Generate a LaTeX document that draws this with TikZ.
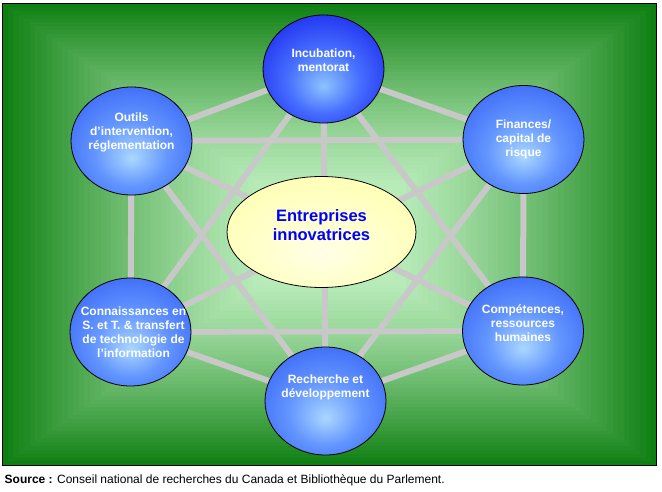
\documentclass[tikz,border=0pt]{standalone}
\usepackage{fontspec}
\setmainfont{Liberation Sans}
\usepackage{xcolor}
\usetikzlibrary{shapes.geometric}

\definecolor{greenDark}{RGB}{14,128,18}
\definecolor{greenLight}{RGB}{200,245,200}
\definecolor{linkGray}{RGB}{200,200,200}
\definecolor{textBlue}{RGB}{0,0,255}
\definecolor{bubbleIn}{RGB}{170,215,255}
\definecolor{bubbleMid}{RGB}{100,150,255}
\definecolor{bubbleRim}{RGB}{50,95,245}
\definecolor{bubbleOut}{RGB}{40,75,235}
\definecolor{topIn}{RGB}{140,195,255}
\definecolor{topMid}{RGB}{70,110,255}
\definecolor{topRim}{RGB}{20,30,235}
\definecolor{topOut}{RGB}{10,10,225}
\definecolor{hubIn}{RGB}{255,255,232}
\definecolor{hubMid}{RGB}{255,255,188}
\definecolor{hubOut}{RGB}{255,255,165}

\pgfdeclareradialshading{bubbleshade}{\pgfpoint{0bp}{-8bp}}{%
  color(0bp)=(bubbleIn); color(15bp)=(bubbleMid);
  color(35bp)=(bubbleRim); color(50bp)=(bubbleOut)}
\pgfdeclareradialshading{topshade}{\pgfpoint{0bp}{-8bp}}{%
  color(0bp)=(topIn); color(15bp)=(topMid);
  color(35bp)=(topRim); color(50bp)=(topOut)}
\pgfdeclareradialshading{hubshade}{\pgfpoint{0bp}{-10bp}}{%
  color(0bp)=(hubIn); color(25bp)=(hubMid); color(50bp)=(hubOut)}

\pgfdeclarelayer{back}
\pgfdeclarelayer{links}
\pgfsetlayers{back,links,main}

\tikzset{
  bubble/.style={ellipse, draw=black, line width=0.8pt, minimum width=121pt,
    minimum height=108pt, inner sep=0pt, shading=bubbleshade, shade},
  bubbletext/.style={text=white, align=center, inner sep=0pt,
    font=\fontsize{12}{14}\selectfont\bfseries},
  hub/.style={ellipse, draw=black, line width=0.8pt, minimum width=189pt,
    minimum height=111pt, inner sep=0pt, shading=hubshade, shade},
  hubtext/.style={text=textBlue, align=center, inner sep=0pt,
    font=\fontsize{16.5}{18.5}\selectfont\bfseries},
  link/.style={linkGray, line width=6pt}
}

\begin{document}
\begin{tikzpicture}[x=1pt, y=-1pt]
  \useasboundingbox (0,0) rectangle (662,492);

  % outer bubbles
  \node[bubble, shading=topshade] (inc) at (323.5,69) {};
  \node[bubble] (out) at (131.5,141) {};
  \node[bubble] (fin) at (523.5,139.5) {};
  \node[bubble] (con) at (130.5,332) {};
  \node[bubble] (comp) at (523,331) {};
  \node[bubble] (rd) at (325.5,401) {};

  % central ellipse
  \node[hub] (ent) at (321.5,232) {};
  \node[hubtext, yshift=7pt] (ent-t) at (ent) {Entreprises\\innovatrices};

  % bubble texts
  \node[bubbletext, yshift=9pt] (inc-t) at (inc) {Incubation,\\mentorat};
  \node[bubbletext, yshift=9pt] (out-t) at (out) {Outils\\d’intervention,\\réglementation};
  \node[bubbletext] (fin-t) at (fin) {Finances/\\capital de\\risque};
  \node[bubbletext, xshift=3pt] (con-t) at (con) {Connaissances en\\S. et T. \& transfert\\de technologie de\\l’information};
  \node[bubbletext, yshift=8pt] (comp-t) at (comp) {Compétences,\\ressources\\humaines};
  \node[bubbletext, yshift=14pt] (rd-t) at (rd) {Recherche et\\développement};

  % every bubble linked to every other one
  \begin{pgfonlayer}{links}
    \foreach \a/\b in {inc/out, inc/fin, out/con, fin/comp, con/rd, comp/rd,
                       out/fin, con/comp, inc/con, inc/comp, out/rd, fin/rd,
                       inc/rd, out/comp, fin/con}
      \draw[link] (\a) -- (\b);
  \end{pgfonlayer}

  % green background, lighter towards the middle
  \begin{pgfonlayer}{back}
    \foreach \i in {0,...,59} {
      \pgfmathsetmacro\t{\i/60}
      \pgfmathsetmacro\mix{100*(1-(1-\t)^1.6)}
      \pgfmathsetmacro\hw{327*(1-\t)}
      \pgfmathsetmacro\hh{231*(1-\t)}
      \fill[greenLight!\mix!greenDark] (329.5-\hw,234.2-\hh) rectangle (329.5+\hw,234.2+\hh);
    }
    \draw[black, line width=1pt] (2.5,3.5) rectangle (656.5,465);
  \end{pgfonlayer}

  % source line
  \node[anchor=base west, inner sep=0pt, font=\fontsize{12}{14}\selectfont] (src) at (4.5,483)
    {\textbf{Source :} Conseil national de recherches du Canada et Bibliothèque du Parlement.};
\end{tikzpicture}
\end{document}
